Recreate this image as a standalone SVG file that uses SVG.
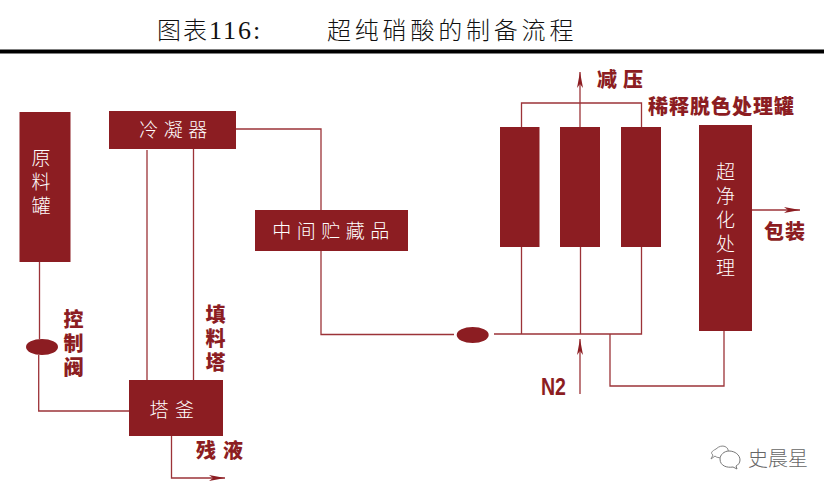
<svg xmlns="http://www.w3.org/2000/svg" width="833" height="493" viewBox="0 0 833 493">
<style>
text{font-family:"Noto Sans CJK SC","Liberation Sans",sans-serif}
.b{fill:#8c1d22}
.w{fill:#fff;font-size:19px;font-weight:300;text-anchor:middle}
.wv{fill:#fff;font-size:19px;font-weight:300;writing-mode:vertical-rl;text-orientation:upright;letter-spacing:5px}
.l{fill:#8c1d22;font-size:20px;font-weight:900}
.lv{fill:#8c1d22;font-size:20px;font-weight:900;writing-mode:vertical-rl;text-orientation:upright;letter-spacing:4px}
.c{fill:none;stroke:#9c3338;stroke-width:1.3}
.t{fill:#111;font-size:24px;font-weight:300}
</style>
<defs>
<marker id="a" markerUnits="userSpaceOnUse" markerWidth="16" markerHeight="8" refX="16" refY="4" orient="auto"><path d="M0 1L16 4L0 7L4 4Z" fill="#8c1d22"/></marker>
</defs>
<rect width="833" height="493" fill="#fff"/>
<g id="title">
<text class="t" x="157" y="39" letter-spacing="2"><tspan>图表</tspan><tspan font-family="'Liberation Serif',serif" font-size="26">116:</tspan></text>
<text class="t" x="327" y="39" letter-spacing="3.8">超纯硝酸的制备流程</text>
<rect x="0" y="49.5" width="824" height="4" fill="#000"/>
</g>
<g id="connectors">
<path class="c" d="M39.5 262V339M38.7 355V411H129"/>
<path class="c" d="M147 150V380M193.5 149V380"/>
<path class="c" d="M236 129H321V210M321 251V334.5H454"/>
<path class="c" d="M494 334H641.5V247M521.5 334V247M580.5 334V247"/>
<path class="c" d="M521.5 127V103H641.5V127"/>
<path class="c" marker-end="url(#a)" d="M580 127V72"/>
<path class="c" marker-end="url(#a)" d="M580 394V339"/>
<path class="c" d="M610 334V386H724V331"/>
<path class="c" marker-end="url(#a)" d="M752 210H800"/>
<path class="c" marker-end="url(#a)" d="M171.5 436V478H225"/>
</g>
<g id="n-yuanliao"><rect class="b" x="19.5" y="112" width="51" height="150"/><text class="wv" x="41" y="148">原料罐</text></g>
<g id="n-lengning"><rect class="b" x="109" y="111" width="127" height="38"/><text class="w" x="176" y="137" letter-spacing="5.5">冷凝器</text></g>
<g id="n-zhongjian"><rect class="b" x="255" y="210" width="153" height="41"/><text class="w" x="333.5" y="238" letter-spacing="5.5">中间贮藏品</text></g>
<g id="n-tafu"><rect class="b" x="129" y="380" width="94" height="56"/><text class="w" x="175" y="417" letter-spacing="6.5">塔釜</text></g>
<g id="n-valve1"><ellipse class="b" cx="42" cy="347" rx="16" ry="8"/></g>
<g id="n-valve2"><ellipse class="b" cx="472.7" cy="335" rx="16" ry="8"/></g>
<g id="n-tank1"><rect class="b" x="500" y="127" width="39.5" height="120"/></g>
<g id="n-tank2"><rect class="b" x="560" y="127" width="40" height="120"/></g>
<g id="n-tank3"><rect class="b" x="621" y="127" width="40" height="120"/></g>
<g id="n-chaojing"><rect class="b" x="699" y="125" width="53" height="206"/><text class="wv" x="725.5" y="162">超净化处理</text></g>
<g id="labels">
<text class="l" x="597" y="87" letter-spacing="6">减压</text>
<text class="l" x="648" y="114" letter-spacing="1">稀释脱色处理罐</text>
<text class="l" x="764" y="239" letter-spacing="1">包装</text>
<text class="lv" x="73.5" y="309">控制阀</text>
<text class="lv" x="215.5" y="304">填料塔</text>
<text class="l" x="196" y="458" letter-spacing="7">残液</text>
<text x="541" y="395" fill="#8c1d22" font-size="24" font-weight="700" textLength="25" lengthAdjust="spacingAndGlyphs" style="font-family:'Liberation Sans',sans-serif">N2</text>
</g>
<g id="watermark">
<path d="M716 449C722 443 730 447 728 453C725 458 718 459 715 456L711 459L713 455C710 453 712 451 716 449Z" fill="#fff" stroke="#888" stroke-width="1"/>
<path d="M729 451C735 451 740 455 740 460C740 463 738 465 736 466L737 469L733 467C727 468 720 466 720 459C720 455 724 451 729 451Z" fill="#fff" stroke="#777" stroke-width="1"/>
<text x="748" y="466" fill="#666" font-size="20" font-weight="300">史晨星</text>
</g>
</svg>
